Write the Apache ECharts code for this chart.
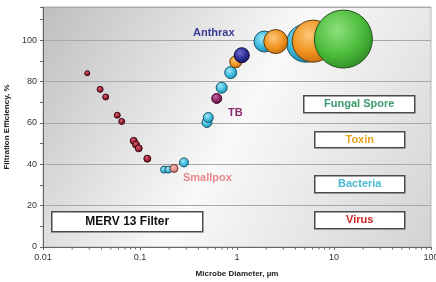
<!DOCTYPE html>
<html>
<head>
<meta charset="utf-8">
<script src="https://cdn.jsdelivr.net/npm/echarts@6/dist/echarts.min.js"></script>
<style>
    html, body { margin: 0; padding: 0; background: #fff; }
    #chart { width: 436px; height: 282px; }
</style>
</head>
<body>
<div id="chart"></div>
<script>
// microbe diameter (um), filtration efficiency (%), bubble size
var virusX = [0.0286, 0.0388, 0.0443, 0.0583, 0.0648, 0.0861, 0.091, 0.097, 0.119];
var virusY = [84, 76.2, 72.5, 63.7, 60.7, 51.3, 49.5, 47.7, 42.7];
var virusSize = [5, 6, 6, 6, 6, 7, 7, 7, 7];

var tbX = [0.618];
var tbY = [71.8];
var tbSize = [10];

var bacteriaX = [0.177, 0.196, 0.284, 0.49, 0.506, 0.695, 0.861, 1.92, 5.1];
var bacteriaY = [37.4, 37.4, 40.9, 60.2, 62.6, 77, 84.3, 99.3, 98.5];
var bacteriaSize = [7, 7, 9, 10, 10, 11, 12, 21, 38];

var smallpoxX = [0.224];
var smallpoxY = [38];
var smallpoxSize = [8];

var toxinX = [0.97, 2.51, 6.1];
var toxinY = [89.5, 99.3, 99.5];
var toxinSize = [12, 24, 42];

var anthraxX = [1.12];
var anthraxY = [92.7];
var anthraxSize = [15];

var fungalX = [12.5];
var fungalY = [100.5];
var fungalSize = [58];

var minorTicksX = [];
[0.01, 0.1, 1, 10].forEach(function (d) {
    for (var k = 2; k <= 9; k++) minorTicksX.push(+(d * k).toFixed(3));
});

var FONT = 'Liberation Sans, Arial, sans-serif';

function ball(light, base, dark) {
    return new echarts.graphic.RadialGradient(0.4, 0.35, 0.7, [
        { offset: 0, color: light },
        { offset: 0.6, color: base },
        { offset: 1, color: dark }
    ]);
}

function bubbles(name, xs, ys, sizes, fill, border) {
    return {
        name: name,
        type: 'scatter',
        data: xs.map(function (x, i) { return [x, ys[i], sizes[i]]; }),
        symbolSize: function (v) { return v[2]; },
        itemStyle: { color: fill, borderColor: border, borderWidth: 1, opacity: 1 }
    };
}

function boxLabel(x, y, w, h, text, color, size) {
    return {
        type: 'group',
        left: x,
        top: y,
        children: [
            { type: 'rect', shape: { x: 0, y: 0, width: w, height: h }, style: { fill: '#fff', stroke: '#4a4a4a', lineWidth: 1.5 } },
            { type: 'text', x: w / 2, y: h / 2, style: { text: text, fill: color, font: 'bold ' + size + 'px ' + FONT, align: 'center', verticalAlign: 'middle' } }
        ]
    };
}

var chart = echarts.init(document.getElementById('chart'));

var option = {
    animation: false,
    backgroundColor: '#fff',
    grid: {
        left: 43, right: 5, top: 7, bottom: 35,
        outerBoundsMode: 'none',
        containLabel: false,
        show: true,
        borderColor: '#b8b8b8',
        borderWidth: 1,
        backgroundColor: new echarts.graphic.LinearGradient(0, 0, 1, 1, [
            { offset: 0, color: '#bebebe' },
            { offset: 0.5, color: '#f9f9f9' },
            { offset: 1, color: '#d2d2d2' }
        ])
    },
    xAxis: {
        type: 'log',
        logBase: 10,
        min: 0.01,
        max: 100,
        name: 'Microbe Diameter, \u00b5m',
        nameLocation: 'middle',
        nameGap: 23,
        nameTextStyle: { fontFamily: FONT, fontSize: 8, fontWeight: 'bold', color: '#222' },
        axisLine: { lineStyle: { color: '#666', width: 1 } },
        axisTick: { show: true, length: 3, lineStyle: { color: '#666' } },
        axisLabel: { fontFamily: FONT, fontSize: 9, color: '#333', margin: 6 },
        splitLine: { show: false }
    },
    yAxis: {
        type: 'value',
        min: 0,
        max: 116,
        interval: 20,
        name: 'Filtration Efficiency, %',
        nameLocation: 'middle',
        nameGap: 27,
        nameTextStyle: { fontFamily: FONT, fontSize: 8, fontWeight: 'bold', color: '#222' },
        axisLine: { show: true, lineStyle: { color: '#666', width: 1 } },
        axisTick: { show: true, length: 3, lineStyle: { color: '#666' } },
        minorTick: { show: true, splitNumber: 2, length: 3, lineStyle: { color: '#666' } },
        axisLabel: { fontFamily: FONT, fontSize: 9, color: '#333', margin: 6, showMaxLabel: false },
        splitLine: { show: true, lineStyle: { color: '#a8a8a8', width: 1 } }
    },
    series: [
        {
            type: 'custom',
            clip: false,
            silent: true,
            data: minorTicksX,
            renderItem: function (params, api) {
                var p = api.coord([api.value(0), 0]);
                return {
                    type: 'line',
                    shape: { x1: p[0], y1: p[1], x2: p[0], y2: p[1] + 2.5 },
                    style: { stroke: '#666', lineWidth: 1 }
                };
            }
        },
        bubbles('Virus', virusX, virusY, virusSize, ball('#d06070', '#9a1c30', '#5a0c18'), '#3a0810'),
        bubbles('TB', tbX, tbY, tbSize, ball('#c0609a', '#8a2462', '#50103a'), '#3a0a28'),
        bubbles('Bacteria', bacteriaX, bacteriaY, bacteriaSize, ball('#9ee6f6', '#36b6da', '#1a7c9e'), '#1c5568'),
        bubbles('Smallpox', smallpoxX, smallpoxY, smallpoxSize, ball('#f6c0c0', '#e48888', '#b05858'), '#704040'),
        bubbles('Toxin', toxinX, toxinY, toxinSize, ball('#fcc878', '#f0921e', '#c06a10'), '#5a3a10'),
        bubbles('Anthrax', anthraxX, anthraxY, anthraxSize, ball('#6a6ad0', '#2a2a8e', '#14145a'), '#0c0c3a'),
        bubbles('Fungal Spore', fungalX, fungalY, fungalSize, ball('#8ee07c', '#4cbc3c', '#2e8a24'), '#24501c')
    ],
    graphic: [
        { type: 'text', left: 193, top: 27, style: { text: 'Anthrax', fill: '#3a3a96', font: 'bold 11px ' + FONT } },
        { type: 'text', left: 228, top: 107, style: { text: 'TB', fill: '#8a2a68', font: 'bold 11px ' + FONT } },
        { type: 'text', left: 183, top: 172, style: { text: 'Smallpox', fill: '#e88888', font: 'bold 11px ' + FONT } },
        boxLabel(51, 211, 151, 20, 'MERV 13 Filter', '#111', 12),
        boxLabel(303, 95, 111, 17, 'Fungal Spore', '#3a9a6e', 11),
        boxLabel(314, 131, 90, 16, 'Toxin', '#e8a020', 11),
        boxLabel(314, 175, 90, 17, 'Bacteria', '#4ab8d2', 11),
        boxLabel(314, 211, 90, 17, 'Virus', '#cc2222', 11)
    ]
};

chart.setOption(option);
</script>
</body>
</html>
